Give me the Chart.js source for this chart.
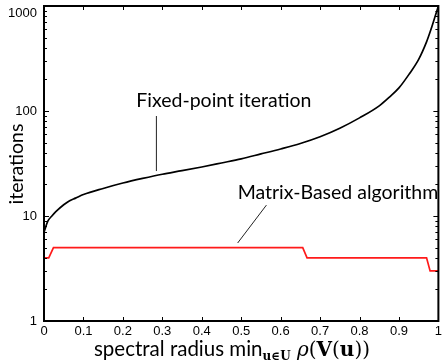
<!DOCTYPE html>
<html lang="en">
<head>
  <meta charset="UTF-8">
  <title>Iterations vs spectral radius</title>
  <script src="https://cdn.jsdelivr.net/npm/chart.js"></script>
  <style>
    body { margin: 0; padding: 0; background: #fff; }
    .wrap { width: 445px; height: 361px; }
  </style>
</head>
<body>
  <div class="wrap"><canvas id="iterChart"></canvas></div>

  <script>
    // data
    const xs = [0, 0.005, 0.01, 0.02, 0.03, 0.05, 0.065, 0.08, 0.1, 0.15, 0.2, 0.25, 0.3, 0.35, 0.4, 0.45,
                0.5, 0.55, 0.6, 0.65, 0.7, 0.75, 0.8, 0.85, 0.875, 0.9, 0.925, 0.95, 0.97, 0.98, 0.99, 1.0];
    const fixedPoint = [7, 8, 9, 10, 11, 12.8, 14, 14.8, 16, 18.3, 20.6, 22.8, 25, 27, 29.3, 32,
                        35, 39, 43.5, 49, 56.8, 68.5, 86, 112, 135, 166, 222, 310, 455, 580, 760, 1000];
    const matrixX = [0, 0.012, 0.024, 0.656, 0.667, 0.97, 0.979, 1];
    const matrixY = [4, 4, 5, 5, 4, 4, 3, 3];
    const xTicks = [0, 0.1, 0.2, 0.3, 0.4, 0.5, 0.6, 0.7, 0.8, 0.9, 1];
    const yTicks = [1, 10, 100, 1000];

    // annotation labels with their leader lines (data coords)
    const notes = [
      { text: 'Fixed-point iteration', x: 0.234, y: 109, from: [0.285, 89.6], to: [0.285, 26.8] },
      { text: 'Matrix-Based algorithm', x: 0.491, y: 14.5, from: [0.564, 12.7], to: [0.491, 5.53] }
    ];

    Chart.defaults.font.family = 'Liberation Sans, Arial, sans-serif';
    Chart.defaults.font.size = 13;
    Chart.defaults.color = '#000';

    const labelFont = '19.5px Lato, sans-serif';

    function seg(ctx, x1, y1, x2, y2) {
      ctx.beginPath();
      ctx.moveTo(x1, y1);
      ctx.lineTo(x2, y2);
      ctx.stroke();
    }

    const framePlugin = {
      id: 'frame',
      afterDatasetsDraw(chart) {
        const { ctx, chartArea: a, scales: { x, y } } = chart;
        ctx.save();
        ctx.strokeStyle = '#000';
        ctx.lineWidth = 1;
        // inward ticks
        xTicks.forEach(v => {
          const px = Math.round(x.getPixelForValue(v)) + 0.5;
          seg(ctx, px, a.bottom, px, a.bottom - 4);
          seg(ctx, px, a.top, px, a.top + 4);
        });
        for (let d = 1; d < 1000; d *= 10) {
          for (let m = 1; m < 10; m++) {
            const v = d * m;
            if (v === 1) continue;
            const py = Math.round(y.getPixelForValue(v)) + 0.5;
            const len = m === 1 ? 5 : 3;
            seg(ctx, a.left, py, a.left + len, py);
            seg(ctx, a.right, py, a.right - len, py);
          }
        }
        ctx.lineWidth = 2;
        ctx.strokeRect(a.left, a.top, a.right - a.left, a.bottom - a.top);

        // y tick labels (top one kept inside the canvas like the original)
        ctx.fillStyle = '#000';
        ctx.font = '13px Liberation Sans, Arial, sans-serif';
        ctx.textAlign = 'right';
        ctx.textBaseline = 'middle';
        yTicks.forEach(v => {
          const py = Math.max(y.getPixelForValue(v), a.top + 7);
          ctx.fillText(String(v), a.left - 7, py);
        });

        // annotations
        ctx.font = labelFont;
        ctx.textAlign = 'left';
        ctx.textBaseline = 'alphabetic';
        notes.forEach(n => {
          ctx.fillText(n.text, x.getPixelForValue(n.x), y.getPixelForValue(n.y));
          ctx.lineWidth = 1;
          ctx.strokeStyle = '#222';
          seg(ctx, x.getPixelForValue(n.from[0]), y.getPixelForValue(n.from[1]),
                   x.getPixelForValue(n.to[0]), y.getPixelForValue(n.to[1]));
        });

        // y title
        ctx.save();
        ctx.translate(17, 164);
        ctx.rotate(-Math.PI / 2);
        ctx.textAlign = 'center';
        ctx.textBaseline = 'middle';
        ctx.fillText('iterations', 0, 0);
        ctx.restore();

        // x title with subscript
        const parts = [
          { t: 'spectral radius min', f: '20.5px Lato, sans-serif', dy: 0 },
          { t: 'u∈U', f: 'bold 12px DejaVu Serif, serif', dy: 4 },
          { t: ' ρ', f: 'italic 20px DejaVu Serif, serif', dy: 0 },
          { t: '(', f: '20px DejaVu Serif, serif', dy: 0 },
          { t: 'V', f: 'bold 20px DejaVu Serif, serif', dy: 0 },
          { t: '(', f: '20px DejaVu Serif, serif', dy: 0 },
          { t: 'u', f: 'bold 20px DejaVu Serif, serif', dy: 0 },
          { t: '))', f: '20px DejaVu Serif, serif', dy: 0 }
        ];
        let total = 0;
        parts.forEach(p => { ctx.font = p.f; p.w = ctx.measureText(p.t).width; total += p.w; });
        let cx = 232 - total / 2;
        parts.forEach(p => {
          ctx.font = p.f;
          ctx.fillText(p.t, cx, 356 + p.dy);
          cx += p.w;
        });
        ctx.restore();
      }
    };

    const ctx = document.getElementById('iterChart').getContext('2d');
    new Chart(ctx, {
      type: 'line',
      data: {
        datasets: [
          {
            label: 'Fixed-point iteration',
            data: xs.map((v, i) => ({ x: v, y: fixedPoint[i] })),
            borderColor: '#000',
            borderWidth: 1.7,
            pointRadius: 0,
            cubicInterpolationMode: 'monotone'
          },
          {
            label: 'Matrix-Based algorithm',
            data: matrixX.map((v, i) => ({ x: v, y: matrixY[i] })),
            borderColor: '#ff1a1a',
            borderWidth: 1.7,
            pointRadius: 0,
            tension: 0
          }
        ]
      },
      options: {
        responsive: true,
        maintainAspectRatio: false,
        animation: false,
        layout: { padding: { top: 6, right: 4, left: 0, bottom: 0 } },
        plugins: { legend: { display: false }, tooltip: { enabled: false } },
        scales: {
          x: {
            type: 'linear', min: 0, max: 1,
            grid: { display: false, drawTicks: false },
            border: { display: false },
            afterBuildTicks: s => { s.ticks = xTicks.map(v => ({ value: v })); },
            afterFit: s => { s.height = 40; },
            ticks: {
              padding: 3,
              maxRotation: 0,
              autoSkip: false,
              callback: v => (v === 0 || v === 1) ? String(v) : v.toFixed(1)
            }
          },
          y: {
            type: 'logarithmic', min: 1, max: 1000,
            grid: { display: false, drawTicks: false },
            border: { display: false },
            afterBuildTicks: s => { s.ticks = yTicks.map(v => ({ value: v })); },
            afterFit: s => { s.width = 44; },
            ticks: { display: false }
          }
        }
      },
      plugins: [framePlugin]
    });
  </script>
</body>
</html>
